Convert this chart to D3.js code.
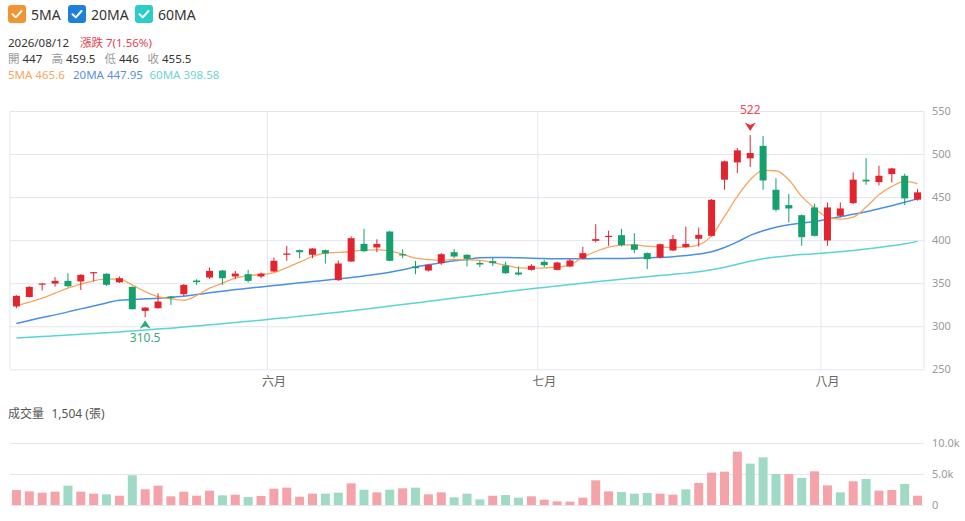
<!DOCTYPE html>
<html>
<head>
<meta charset="utf-8">
<script src="https://cdn.jsdelivr.net/npm/d3@7/dist/d3.min.js"></script>
<style>
  body { margin: 0; background: #fff; font-family: "Noto Sans", "Noto Sans CJK TC", sans-serif; }
  svg text { font-family: "Noto Sans", "Noto Sans CJK TC", sans-serif; }
</style>
</head>
<body>
<svg id="chart" width="965" height="521"></svg>
<script>
// trading days (May 4 - Aug 12, 2026)
const dates = [
  '2026/05/04','2026/05/05','2026/05/06','2026/05/07','2026/05/08','2026/05/11','2026/05/12','2026/05/13','2026/05/14','2026/05/15',
  '2026/05/18','2026/05/19','2026/05/20','2026/05/21','2026/05/22','2026/05/25','2026/05/26','2026/05/27','2026/05/28','2026/05/29',
  '2026/06/01','2026/06/02','2026/06/03','2026/06/04','2026/06/05','2026/06/08','2026/06/09','2026/06/10','2026/06/11','2026/06/12',
  '2026/06/15','2026/06/16','2026/06/17','2026/06/18','2026/06/22','2026/06/23','2026/06/24','2026/06/25','2026/06/26','2026/06/29',
  '2026/06/30','2026/07/01','2026/07/02','2026/07/03','2026/07/06','2026/07/07','2026/07/08','2026/07/09','2026/07/13','2026/07/14',
  '2026/07/15','2026/07/16','2026/07/17','2026/07/20','2026/07/21','2026/07/22','2026/07/23','2026/07/24','2026/07/27','2026/07/28',
  '2026/07/29','2026/07/30','2026/07/31','2026/08/03','2026/08/04','2026/08/05','2026/08/06','2026/08/07','2026/08/10','2026/08/11',
  '2026/08/12'
];
const opens = [
  323, 334, 348.4, 349.6, 352.7, 352, 361.6, 361, 351, 345.7,
  317.8, 321, 334.5, 337.2, 353.1, 356.6, 364.7, 357.8, 360.5, 357.8,
  363.6, 383, 388.4, 383, 388.4, 353.5, 375.2, 395.7, 391.5, 410,
  383.7, 369.4, 364.7, 373.3, 386, 383, 373.6, 375.6, 370.5, 362.4,
  365.5, 374.8, 365.5, 369.4, 378.7, 399.2, 403.9, 405.8, 395, 385,
  379.8, 388, 392, 401.6, 405, 470.2, 490.3, 495, 509.5, 458.5,
  440.7, 429, 438, 399.6, 428.3, 443, 470.2, 467.4, 476.7, 474.8,
  447
];
const highs = [
  336, 346.5, 350.5, 357, 361.6, 360.5, 363, 361.5, 357.8, 346.2,
  322.2, 338.4, 335.3, 349, 354.6, 368.2, 365.2, 364.3, 365.5, 362.4,
  379.8, 393.4, 389.1, 390.6, 389.1, 376.4, 404.3, 413.2, 401, 411,
  389.5, 376, 372, 385, 389.5, 383.7, 376, 379.8, 374.8, 369.4,
  372.1, 377.1, 375, 378.7, 392.2, 418.6, 410.9, 413.2, 408.1, 385.7,
  396, 405.8, 415.9, 414.7, 447.7, 492.2, 507, 522, 521, 472,
  453.5, 429.8, 442.2, 443.8, 443.8, 478.7, 495.3, 486.4, 484.1, 477.1,
  459.5
];
const lows = [
  321, 333.5, 341.5, 346, 345.3, 342.2, 352, 346.9, 350.2, 319.5,
  310.5, 320.5, 324.8, 335.3, 348, 355, 348, 355, 350.8, 355.8,
  362.8, 376, 379, 379, 372.9, 352.7, 375, 386, 386, 375.5,
  379, 360.5, 363.6, 371.3, 379, 369.4, 368.6, 370, 360.8, 358.9,
  364.7, 368.6, 364.7, 368.6, 377.9, 397.3, 393.4, 392.6, 384.9, 366.3,
  378.7, 387.2, 391.1, 392.6, 404.3, 458.5, 477.9, 485, 458.5, 433.3,
  420.5, 393.4, 404.3, 393.4, 426.7, 441.9, 464.3, 463.6, 467, 440.7,
  446
];
const closes = [
  335.3, 345.7, 349.6, 352.7, 346.5, 359.7, 362.8, 348.1, 355.8, 319.8,
  321.7, 328.7, 332.6, 348, 351.2, 364.3, 355.8, 361.2, 352.7, 361.2,
  376, 384.5, 386, 390.3, 384.5, 372.9, 402.3, 387.2, 395.7, 376,
  382.2, 367.4, 371.3, 383.7, 381, 378.3, 371.7, 373.3, 361.6, 360.1,
  370.2, 370.9, 374, 376.4, 384.9, 401.2, 405, 394.2, 388.8, 377.9,
  395.3, 401.2, 395.7, 406.2, 446.9, 491.5, 504.3, 501.2, 469.3, 435.3,
  436.8, 403.5, 405, 438, 436.8, 470.2, 468.2, 474.8, 483.3, 448.5,
  455.5
];
const volumes = [
  2420, 2200, 1990, 2150, 3120, 2150, 1830, 1720, 1500, 4790,
  2530, 3120, 1400, 2150, 1500, 2310, 1560, 1670, 1290, 1450,
  2630, 2800, 1340, 1830, 1830, 1990, 3490, 2470, 2040, 2470,
  2690, 2800, 1720, 2040, 1240, 1830, 910, 1500, 1610, 1180,
  1400, 860, 590, 540, 1180, 3980, 2200, 2100, 1830, 1940,
  1830, 1670, 2530, 3550, 5220, 5380, 8600, 6670, 7690, 5000,
  5000, 4360, 5430, 3170, 2040, 3820, 4190, 2310, 2420, 3390,
  1504
];
const ma5 = [
  323.6, 327.9, 332.6, 338.4, 344.2, 348.8, 352.7, 355, 354.6, 348,
  340.3, 334.5, 331.8, 330.2, 335.7, 344.2, 350, 355.8, 358.9, 360,
  362.4, 368.2, 374.4, 381, 384.9, 385.7, 386.8, 388.4, 388.8, 387.6,
  383.7, 379, 377.5, 376.7, 377.5, 377.1, 376.4, 374, 370.9, 367.8,
  367.4, 367.8, 368.6, 371.3, 380.2, 386.8, 391.9, 394.2, 394.6, 393,
  391.9, 391.5, 391.9, 394.6, 405, 427.5, 450.8, 470.2, 481, 480.6,
  470.2, 450.8, 437.2, 426.7, 424.4, 426.7, 438.4, 452.7, 462.4, 468.2,
  465.6
];
const ma20 = [
  303.1, 306.6, 310.1, 313.2, 316.7, 320.2, 323.6, 327.1, 330.2, 331,
  331.8, 332.6, 333.7, 334.9, 336.8, 338.8, 340.7, 342.6, 344.2, 345.7,
  347.3, 348.8, 350.4, 351.9, 353.5, 355, 356.6, 358.5, 360.5, 362.8,
  365.5, 369, 371.3, 373.6, 376, 377.5, 379.5, 379.8, 379.8, 379.5,
  379.1, 378.7, 378.3, 378.3, 378.3, 378.7, 378.7, 378.7, 379.1, 379.5,
  380, 380.8, 382.2, 383.8, 386.5, 391.5, 398, 405.5, 411, 415,
  417.8, 419.8, 421.7, 424.5, 427.3, 430, 433, 436.5, 440, 444,
  447.95
];
const ma60 = [
  286.4, 287.2, 288, 288.9, 289.7, 290.6, 291.5, 292.4, 293.4, 294.5,
  295.6, 296.7, 297.8, 299, 300.3, 301.6, 302.9, 304.3, 305.7, 307.1,
  308.6, 310, 311.6, 313.1, 314.7, 316.3, 318, 319.8, 321.6, 323.4,
  325.2, 327, 328.9, 330.8, 332.7, 334.6, 336.4, 338.3, 340, 341.8,
  343.5, 345.1, 346.8, 348.4, 350, 351.6, 353.2, 354.7, 356.1, 357.5,
  358.9, 360.3, 361.7, 363.3, 365.5, 368.5, 372, 375.5, 378.5, 380.5,
  382, 383.2, 384.2, 385.3, 386.6, 388, 389.6, 391.4, 393.4, 395.7,
  398.58
];
const priceTicks = [250, 300, 350, 400, 450, 500, 550];
const volumeTicks = [0, 5000, 10000];
const monthLabels = { '05': '五月', '06': '六月', '07': '七月', '08': '八月' };

const colors = {
  up: '#e3232e',
  down: '#16a06e',
  volUp: '#f4a3a8',
  volDown: '#a0dac5',
  ma5: '#f7a65e',
  ma20: '#4a90e2',
  ma60: '#5ad5d5',
  grid: '#e3e6f0',
  axisText: '#9a9a9a'
};

const svg = d3.select('#chart');
const left = 10, right = 924;
const n = dates.length;

const x = d3.scaleBand().domain(d3.range(n)).range([left, right]);
const bw = x.bandwidth();
const cx = i => x(i) + bw / 2;
const yP = d3.scaleLinear().domain([250, 550]).range([369.3, 111]);
const yV = d3.scaleLinear().domain([0, 10000]).range([505, 443]);

// legend
const legend = [
  { name: '5MA', color: '#f29431', x: 8 },
  { name: '20MA', color: '#1f80d9', x: 68 },
  { name: '60MA', color: '#2ccdc8', x: 135 }
];
legend.forEach(l => {
  const g = svg.append('g').attr('transform', `translate(${l.x},5)`);
  g.append('rect').attr('width', 18).attr('height', 18).attr('rx', 3).attr('fill', l.color);
  g.append('path').attr('d', 'M4.5 9.2 L7.8 12.4 L13.5 6')
    .attr('fill', 'none').attr('stroke', '#fff').attr('stroke-width', 2)
    .attr('stroke-linecap', 'round').attr('stroke-linejoin', 'round');
  g.append('text').attr('x', 23).attr('y', 14.5).style('font-size', '14px').attr('fill', '#333').text(l.name);
});

// header info
const last = n - 1;
const chg = closes[last] - closes[last - 1];
const header = svg.append('g').style('font-size', '11.5px');
header.append('text').attr('x', 8).attr('y', 46.5).attr('fill', '#333').text(dates[last]);
header.append('text').attr('x', 80).attr('y', 46.5).attr('fill', '#e8424e')
  .text(`漲跌 ${d3.format('.0f')(chg)}(${(chg / closes[last - 1] * 100).toFixed(2)}%)`);
[
  { label: '開', value: opens[last], x: 8 },
  { label: '高', value: highs[last], x: 51.5 },
  { label: '低', value: lows[last], x: 104.5 },
  { label: '收', value: closes[last], x: 147.5 }
].forEach(d => {
  const t = header.append('text').attr('x', d.x).attr('y', 62.5);
  t.append('tspan').attr('fill', '#999').text(d.label);
  t.append('tspan').attr('fill', '#333').attr('dx', 3).text(d.value);
});
header.append('text').attr('x', 8).attr('y', 78.5).attr('fill', colors.ma5).text(`5MA ${ma5[last]}`);
header.append('text').attr('x', 73).attr('y', 78.5).attr('fill', '#5b8fe0').text(`20MA ${ma20[last]}`);
header.append('text').attr('x', 149.5).attr('y', 78.5).attr('fill', '#6fd3d3').text(`60MA ${ma60[last]}`);

// price grid + axis
const gy = svg.append('g').attr('transform', `translate(${right},0)`)
  .call(d3.axisRight(yP).tickValues(priceTicks).tickSize(-(right - left)).tickPadding(8));
gy.select('.domain').remove();
gy.selectAll('line').attr('stroke', colors.grid);
gy.selectAll('text').attr('fill', colors.axisText).style('font-size', '11px');

const monthStarts = d3.range(1, n).filter(i => dates[i].slice(5, 7) !== dates[i - 1].slice(5, 7));
svg.append('g').selectAll('line')
  .data([left, ...monthStarts.map(i => x(i)), right])
  .join('line')
  .attr('x1', d => d).attr('x2', d => d)
  .attr('y1', yP(550)).attr('y2', yP(250))
  .attr('stroke', colors.grid).attr('stroke-width', 1);

svg.append('g').selectAll('text')
  .data(monthStarts)
  .join('text')
  .attr('x', i => cx(i)).attr('y', 386)
  .attr('text-anchor', 'middle')
  .style('font-size', '12px').attr('fill', '#666')
  .text(i => monthLabels[dates[i].slice(5, 7)]);

// moving averages
const line = d3.line().x((d, i) => cx(i)).y(d => yP(d)).curve(d3.curveMonotoneX);
svg.append('path').attr('d', line(ma60)).attr('fill', 'none').attr('stroke', colors.ma60).attr('stroke-width', 1.5);
svg.append('path').attr('d', line(ma20)).attr('fill', 'none').attr('stroke', colors.ma20).attr('stroke-width', 1.5);
svg.append('path').attr('d', line(ma5)).attr('fill', 'none').attr('stroke', colors.ma5).attr('stroke-width', 1.3);

// candles
const candleW = 7;
const candles = svg.append('g').selectAll('g').data(d3.range(n)).join('g');
candles.append('line')
  .attr('x1', i => cx(i)).attr('x2', i => cx(i))
  .attr('y1', i => yP(highs[i])).attr('y2', i => yP(lows[i]))
  .attr('stroke', i => closes[i] >= opens[i] ? colors.up : colors.down)
  .attr('stroke-width', 1);
candles.append('rect')
  .attr('x', i => cx(i) - candleW / 2)
  .attr('width', candleW)
  .attr('y', i => yP(Math.max(opens[i], closes[i])))
  .attr('height', i => Math.max(1.2, Math.abs(yP(opens[i]) - yP(closes[i]))))
  .attr('fill', i => closes[i] >= opens[i] ? colors.up : colors.down);

// max / min markers
const iMax = d3.maxIndex(highs), iMin = d3.minIndex(lows);
const tMaxY = yP(highs[iMax]) - 4;
svg.append('path')
  .attr('d', `M${cx(iMax)},${tMaxY} L${cx(iMax) - 5.5},${tMaxY - 8.5} L${cx(iMax)},${tMaxY - 6} L${cx(iMax) + 5.5},${tMaxY - 8.5} Z`)
  .attr('fill', '#e8303c');
svg.append('text').attr('x', cx(iMax)).attr('y', tMaxY - 17)
  .attr('text-anchor', 'middle').style('font-size', '12px').attr('fill', '#ea4b55')
  .text(highs[iMax]);
const tMinY = yP(lows[iMin]) + 3;
svg.append('path')
  .attr('d', `M${cx(iMin)},${tMinY} L${cx(iMin) - 5.5},${tMinY + 8.5} L${cx(iMin)},${tMinY + 6} L${cx(iMin) + 5.5},${tMinY + 8.5} Z`)
  .attr('fill', '#2aa877');
svg.append('text').attr('x', cx(iMin)).attr('y', tMinY + 22)
  .attr('text-anchor', 'middle').style('font-size', '12px').attr('fill', '#3aaa7c')
  .text(lows[iMin]);

// volume panel
const volTitle = svg.append('text').attr('y', 418).style('font-size', '12px').attr('fill', '#555');
volTitle.append('tspan').attr('x', 8).text('成交量');
volTitle.append('tspan').attr('x', 51.5).text(`${d3.format(',')(volumes[last])} (張)`);

const gv = svg.append('g').attr('transform', `translate(${right},0)`)
  .call(d3.axisRight(yV).tickValues(volumeTicks).tickSize(-(right - left)).tickPadding(8)
    .tickFormat(d => d === 0 ? '0' : d3.format('.1f')(d / 1000) + 'k'));
gv.select('.domain').remove();
gv.selectAll('line').attr('stroke', colors.grid);
gv.selectAll('text').attr('fill', colors.axisText).style('font-size', '11px');

const volW = 9;
svg.append('g').selectAll('rect')
  .data(d3.range(n))
  .join('rect')
  .attr('x', i => cx(i) - volW / 2)
  .attr('width', volW)
  .attr('y', i => yV(volumes[i]))
  .attr('height', i => yV(0) - yV(volumes[i]))
  .attr('fill', i => closes[i] >= (i > 0 ? closes[i - 1] : opens[i]) ? colors.volUp : colors.volDown);
</script>
</body>
</html>
